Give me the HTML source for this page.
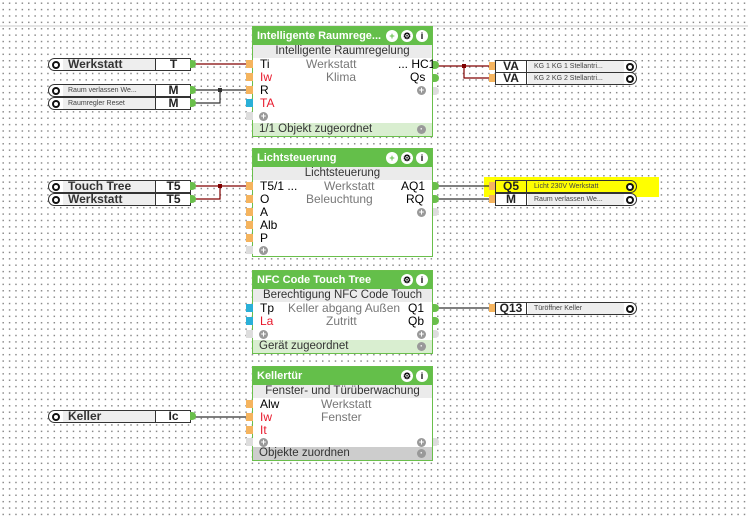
<!DOCTYPE html>
<html><head><meta charset="utf-8">
<style>
*{margin:0;padding:0;box-sizing:border-box}
body{width:748px;height:520px;overflow:hidden;position:relative;font-family:"Liberation Sans",sans-serif;
background-color:#fff;background-image:radial-gradient(circle,#8a8a8a 0.7px,transparent 0.9px);background-size:6.4px 6.4px;background-position:0 0}
.hl{position:absolute;left:0;top:25px;width:748px;height:2px;background:#e4e4e4}
.blk{position:absolute;left:252px;width:181px;border:1px solid #6abf4b;background:#fff}
.hd{height:18px;background:#64bf4a;color:#fff;font-weight:bold;font-size:11px;line-height:18px;padding-left:4px;position:relative}
.sub{height:13px;background:#ebebeb;font-size:11.5px;line-height:13px;text-align:center;color:#333}
.ft{position:absolute;left:0;right:0;bottom:0;height:13px;font-size:11.5px;line-height:13px;padding-left:6px;color:#333}
.t{position:absolute;font-size:12px;line-height:13px;white-space:nowrap}
.g{color:#777}
.r{color:#e8192c}
.ic{position:absolute;top:3px;width:12px;height:12px;border-radius:50%;background:#fff;font-size:9px;line-height:12px;text-align:center;color:#000;font-weight:bold}
.pl{position:absolute;width:7px;height:8px;background:#f5b45e}
.pb{position:absolute;width:7px;height:8px;background:#2ab0d8}
.pg{position:absolute;width:7px;height:8px;background:#ddd}
.po{position:absolute;width:6px;height:8px;background:#6abf4b;border-radius:0 4px 4px 0}
.pgo{position:absolute;width:6px;height:8px;background:#ddd;border-radius:0 4px 4px 0}
.plus{position:absolute;width:9px;height:9px;border-radius:50%;background:#999;color:#fff;font-size:9px;line-height:9px;text-align:center;font-weight:bold}
.box{position:absolute;height:13px;border:1px solid #333;background:#fff;border-radius:7px 0 0 7px;font-size:12px;line-height:11px}
.rbox{position:absolute;height:13px;border:1px solid #333;background:#fff;border-radius:0 7px 7px 0;font-size:12px;line-height:11px}
.lab{position:absolute;top:0;bottom:0;background:#eee}
.let{position:absolute;top:0;bottom:0;text-align:center;font-weight:bold;color:#222}
.gear{position:absolute;top:2px;width:8px;height:8px;border-radius:50%;border:2px solid #111;background:#fff}
svg{position:absolute;left:0;top:0}
</style></head><body>
<div class="hl"></div>
<div style="position:absolute;left:484px;top:177px;width:175px;height:20px;background:#ffff00"></div>
<div style="position:absolute;left:254px;top:174px;width:52px;height:16px;background:#ffff00"></div>

<svg width="748" height="520">
<g stroke="#800000" stroke-width="1.2" fill="none">
<path d="M193 64H250"/>
<path d="M436 66H464V78H490M464 66H490"/>
<path d="M193 186H250M220 186V199H193"/>
</g>
<rect x="218" y="184" width="4" height="4" fill="#800000"/>
<rect x="462" y="64" width="4" height="4" fill="#800000"/>
<g stroke="#333" stroke-width="1.2" fill="none">
<path d="M193 90H250M220 90V103H193"/>
<path d="M436 186H490M436 199H490"/>
<path d="M436 308H490"/>
<path d="M193 417H250"/>
</g>
<rect x="218" y="88" width="4" height="4" fill="#333"/>
</svg>

<!-- Block 1 -->
<div class="blk" style="top:26px;height:111px">
 <div class="hd">Intelligente Raumrege...<span class="ic" style="left:133px;background:#fff;color:#64bf4a">+</span><span class="ic" style="left:148px">⚙</span><span class="ic" style="left:163px">i</span></div>
 <div class="sub">Intelligente Raumregelung</div>
 <div class="t" style="left:7px;top:31px">Ti</div><div class="t g" style="left:53px;top:31px">Werkstatt</div><div class="t" style="left:145px;top:31px">... HC1</div>
 <div class="t r" style="left:7px;top:44px">Iw</div><div class="t g" style="left:73px;top:44px">Klima</div><div class="t" style="left:157px;top:44px">Qs</div>
 <div class="t" style="left:7px;top:57px">R</div>
 <div class="t r" style="left:7px;top:70px">TA</div>
 <div class="plus" style="left:164px;top:59px">+</div>
 <div class="plus" style="left:6px;top:85px">+</div>
 <div class="ft" style="background:#d9eed0">1/1 Objekt zugeordnet<span class="plus" style="left:164px;top:2px">·</span></div>
</div>
<div class="pl" style="left:246px;top:60px"></div><div class="pl" style="left:246px;top:73px"></div><div class="pl" style="left:246px;top:86px"></div><div class="pb" style="left:246px;top:99px"></div><div class="pg" style="left:246px;top:112px"></div>
<div class="po" style="left:433px;top:61px"></div><div class="po" style="left:433px;top:74px"></div><div class="pgo" style="left:433px;top:87px"></div>

<!-- Block 2 -->
<div class="blk" style="top:148px;height:109px">
 <div class="hd">Lichtsteuerung<span class="ic" style="left:133px;color:#64bf4a">+</span><span class="ic" style="left:148px">⚙</span><span class="ic" style="left:163px">i</span></div>
 <div class="sub" style="background:#ebebeb">Lichtsteuerung</div>
 <div class="t" style="left:7px;top:31px">T5/1 ...</div><div class="t g" style="left:71px;top:31px">Werkstatt</div><div class="t" style="left:148px;top:31px">AQ1</div>
 <div class="t" style="left:7px;top:44px">O</div><div class="t g" style="left:53px;top:44px">Beleuchtung</div><div class="t" style="left:153px;top:44px">RQ</div>
 <div class="t" style="left:7px;top:57px">A</div>
 <div class="t" style="left:7px;top:70px">Alb</div>
 <div class="t" style="left:7px;top:83px">P</div>
 <div class="plus" style="left:164px;top:59px">+</div>
 <div class="plus" style="left:6px;top:97px">+</div>
</div>
<div class="pl" style="left:246px;top:182px"></div><div class="pl" style="left:246px;top:195px"></div><div class="pl" style="left:246px;top:208px"></div><div class="pl" style="left:246px;top:221px"></div><div class="pl" style="left:246px;top:234px"></div><div class="pg" style="left:246px;top:246px"></div>
<div class="po" style="left:433px;top:182px"></div><div class="po" style="left:433px;top:195px"></div><div class="pgo" style="left:433px;top:208px"></div>

<!-- Block 3 -->
<div class="blk" style="top:270px;height:84px">
 <div class="hd">NFC Code Touch Tree<span class="ic" style="left:148px">⚙</span><span class="ic" style="left:163px">i</span></div>
 <div class="sub">Berechtigung NFC Code Touch</div>
 <div class="t" style="left:7px;top:31px">Tp</div><div class="t g" style="left:35px;top:31px">Keller abgang Außen</div><div class="t" style="left:155px;top:31px">Q1</div>
 <div class="t r" style="left:7px;top:44px">La</div><div class="t g" style="left:73px;top:44px">Zutritt</div><div class="t" style="left:155px;top:44px">Qb</div>
 <div class="plus" style="left:6px;top:59px">+</div><div class="plus" style="left:164px;top:59px">+</div>
 <div class="ft" style="background:#d9eed0">Gerät zugeordnet<span class="plus" style="left:164px;top:2px">·</span></div>
</div>
<div class="pb" style="left:246px;top:304px"></div><div class="pb" style="left:246px;top:317px"></div><div class="pg" style="left:246px;top:330px"></div>
<div class="po" style="left:433px;top:304px"></div><div class="po" style="left:433px;top:317px"></div><div class="pgo" style="left:433px;top:330px"></div>

<!-- Block 4 -->
<div class="blk" style="top:366px;height:95px">
 <div class="hd">Kellertür<span class="ic" style="left:148px">⚙</span><span class="ic" style="left:163px">i</span></div>
 <div class="sub">Fenster- und Türüberwachung</div>
 <div class="t" style="left:7px;top:31px">Alw</div><div class="t g" style="left:68px;top:31px">Werkstatt</div>
 <div class="t r" style="left:7px;top:44px">Iw</div><div class="t g" style="left:68px;top:44px">Fenster</div>
 <div class="t r" style="left:7px;top:57px">It</div>
 <div class="plus" style="left:6px;top:71px">+</div><div class="plus" style="left:164px;top:71px">+</div>
 <div class="ft" style="background:#cdcdcd">Objekte zuordnen<span class="plus" style="left:164px;top:2px">·</span></div>
</div>
<div class="pl" style="left:246px;top:400px"></div><div class="pl" style="left:246px;top:413px"></div><div class="pl" style="left:246px;top:426px"></div><div class="pg" style="left:246px;top:438px"></div>
<div class="pgo" style="left:433px;top:438px"></div>

<!-- Left input boxes -->
<div class="box" style="left:48px;top:58px;width:143px"><div class="gear" style="left:3px"></div><div class="lab" style="left:14px;width:92px;font-weight:bold;padding-left:5px;color:#333">Werkstatt</div><div class="let" style="left:106px;width:36px;border-left:1px solid #333">T</div></div>
<div class="box" style="left:48px;top:84px;width:143px;font-size:7px"><div class="gear" style="left:3px"></div><div class="lab" style="left:14px;width:92px;padding-left:5px;color:#444">Raum verlassen We...</div><div class="let" style="left:106px;width:36px;border-left:1px solid #333;font-size:12px">M</div></div>
<div class="box" style="left:48px;top:97px;width:143px;font-size:7px"><div class="gear" style="left:3px"></div><div class="lab" style="left:14px;width:92px;padding-left:5px;color:#444">Raumregler Reset</div><div class="let" style="left:106px;width:36px;border-left:1px solid #333;font-size:12px">M</div></div>
<div class="box" style="left:48px;top:180px;width:143px"><div class="gear" style="left:3px"></div><div class="lab" style="left:14px;width:92px;font-weight:bold;padding-left:5px;color:#333">Touch Tree</div><div class="let" style="left:106px;width:36px;border-left:1px solid #333">T5</div></div>
<div class="box" style="left:48px;top:193px;width:143px"><div class="gear" style="left:3px"></div><div class="lab" style="left:14px;width:92px;font-weight:bold;padding-left:5px;color:#333">Werkstatt</div><div class="let" style="left:106px;width:36px;border-left:1px solid #333">T5</div></div>
<div class="box" style="left:48px;top:410px;width:143px"><div class="gear" style="left:3px"></div><div class="lab" style="left:14px;width:92px;font-weight:bold;padding-left:5px;color:#333">Keller</div><div class="let" style="left:106px;width:36px;border-left:1px solid #333">Ic</div></div>
<div class="po" style="left:190px;top:60px"></div><div class="po" style="left:190px;top:86px"></div><div class="po" style="left:190px;top:99px"></div>
<div class="po" style="left:190px;top:182px"></div><div class="po" style="left:190px;top:195px"></div><div class="po" style="left:190px;top:412px"></div>

<!-- Right output boxes -->
<div class="pl" style="left:489px;top:62px"></div><div class="pl" style="left:489px;top:74px"></div>
<div class="rbox" style="left:495px;top:60px;width:142px;font-size:7px"><div class="let" style="left:0;width:31px;border-right:1px solid #333;font-size:12px">VA</div><div class="lab" style="left:32px;right:12px;padding-left:6px;color:#444">KG 1 KG 1 Stellantri...</div><div class="gear" style="right:2px"></div></div>
<div class="rbox" style="left:495px;top:72px;width:142px;font-size:7px"><div class="let" style="left:0;width:31px;border-right:1px solid #333;font-size:12px">VA</div><div class="lab" style="left:32px;right:12px;padding-left:6px;color:#444">KG 2 KG 2 Stellantri...</div><div class="gear" style="right:2px"></div></div>
<div class="pl" style="left:489px;top:182px"></div><div class="pl" style="left:489px;top:195px"></div>
<div class="rbox" style="left:495px;top:180px;width:142px;font-size:7px;background:#ffff00"><div class="let" style="left:0;width:31px;border-right:1px solid #333;font-size:12px;background:#ffff00">Q5</div><div class="lab" style="left:32px;right:12px;padding-left:6px;color:#444;background:#ffff00">Licht 230V Werkstatt</div><div class="gear" style="right:2px"></div></div>
<div class="rbox" style="left:495px;top:193px;width:142px;font-size:7px"><div class="let" style="left:0;width:31px;border-right:1px solid #333;font-size:12px">M</div><div class="lab" style="left:32px;right:12px;padding-left:6px;color:#444">Raum verlassen We...</div><div class="gear" style="right:2px"></div></div>
<div class="pl" style="left:489px;top:304px"></div>
<div class="rbox" style="left:495px;top:302px;width:142px;font-size:7px"><div class="let" style="left:0;width:31px;border-right:1px solid #333;font-size:12px">Q13</div><div class="lab" style="left:32px;right:12px;padding-left:6px;color:#444">Türöffner Keller</div><div class="gear" style="right:2px"></div></div>
</body></html>
